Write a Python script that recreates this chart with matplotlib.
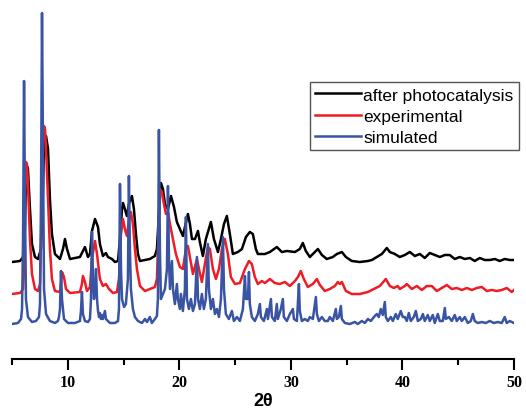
import matplotlib.pyplot as plt
from matplotlib.ticker import MultipleLocator

# PXRD patterns, 2-theta (deg) vs intensity (a.u., above each trace's own baseline)
after_2theta = [
    5.00, 5.72, 5.99, 6.16, 6.25, 6.34, 6.43, 6.61, 6.79, 7.06, 7.33, 7.60, 7.78, 7.87,
    8.05, 8.23, 8.40, 8.58, 8.85, 9.30, 9.57, 9.75, 9.93, 10.20, 11.09, 11.54, 11.81,
    11.99, 12.17, 12.44, 12.71, 12.88, 13.15, 13.42, 13.60, 13.96, 14.23, 14.50, 14.68,
    14.86, 14.95, 15.12, 15.30, 15.48, 15.75, 15.93, 16.11, 16.29, 16.47, 16.92, 17.36,
    17.81, 17.99, 18.17, 18.35, 18.53, 18.71, 18.98, 19.25, 19.52, 19.78, 20.05, 20.32,
    20.50, 20.77, 20.95, 21.13, 21.40, 21.67, 21.84, 22.11, 22.38, 22.83, 23.10, 23.46,
    23.73, 24.00, 24.26, 24.53, 24.80, 25.25, 25.61, 25.97, 26.32, 26.59, 26.86, 27.04,
    27.67, 28.12, 28.74, 29.19, 29.64, 30.36, 30.80, 31.07, 31.34, 31.70, 32.15, 32.42,
    32.78, 33.22, 33.76, 34.12, 34.57, 34.93, 35.46, 36.18, 36.90, 37.26, 37.70, 38.15,
    38.60, 38.87, 39.32, 39.76, 40.21, 40.66, 41.11, 41.56, 42.00, 42.45, 42.90, 43.35,
    43.80, 44.24, 44.69, 45.14, 45.59, 46.04, 46.48, 46.93, 47.38, 47.83, 48.28, 48.72,
    49.17, 49.62, 50.00,
]
after_int = [
    0, 1, 5, 33, 83, 96, 93, 53, 18, 5, 3, 13, 73, 118,
    126, 113, 63, 28, 8, 3, 13, 23, 13, 3, 5, 15, 5,
    8, 31, 43, 35, 18, 6, 9, 5, 3, 0, 1, 23,
    53, 59, 53, 46, 58, 66, 53, 28, 8, 1, 2, 3,
    6, 13, 48, 79, 73, 58, 53, 66, 55, 40, 33, 26,
    35, 48, 38, 23, 23, 31, 20, 6, 23, 40, 23, 10,
    23, 38, 46, 28, 8, 10, 13, 25, 30, 28, 13, 8,
    8, 10, 15, 10, 11, 10, 13, 19, 11, 5, 10, 13,
    7, 3, 5, 8, 10, 5, 1, 0, 1, 2, 5, 8,
    14, 10, 8, 5, 7, 10, 6, 8, 4, 9, 7, 5,
    7, 7, 3, 5, 3, 4, 1, 4, 2, 2, 3, 1,
    3, 2, 2,
]

exp_2theta = [
    5.00, 5.72, 5.99, 6.08, 6.16, 6.25, 6.34, 6.43, 6.61, 6.79, 7.06, 7.33, 7.51, 7.69,
    7.78, 7.87, 7.96, 8.05, 8.23, 8.40, 8.58, 8.85, 9.30, 9.39, 9.48, 9.66, 9.84, 10.20,
    11.09, 11.27, 11.36, 11.54, 11.72, 11.99, 12.17, 12.44, 12.62, 12.88, 13.15, 13.42,
    13.69, 14.05, 14.41, 14.59, 14.77, 14.95, 15.12, 15.30, 15.48, 15.66, 15.84, 16.02,
    16.20, 16.47, 16.92, 17.36, 17.81, 17.99, 18.17, 18.26, 18.44, 18.62, 18.80, 18.98,
    19.16, 19.43, 19.69, 20.05, 20.32, 20.59, 20.77, 20.95, 21.22, 21.58, 21.76, 22.02,
    22.29, 22.56, 22.74, 23.01, 23.28, 23.55, 23.82, 24.08, 24.35, 24.62, 24.98, 25.43,
    25.88, 26.24, 26.50, 26.77, 27.04, 27.40, 27.67, 28.12, 28.56, 29.01, 29.46, 29.91,
    30.36, 30.63, 30.89, 31.16, 31.52, 31.97, 32.33, 32.60, 33.04, 33.49, 33.94, 34.21,
    34.39, 34.57, 34.93, 35.46, 36.18, 36.90, 37.44, 37.97, 38.51, 38.87, 39.23, 39.58,
    39.76, 40.21, 40.39, 40.84, 41.29, 41.74, 42.18, 42.63, 43.08, 43.53, 43.98, 44.42,
    44.87, 45.32, 45.77, 46.22, 46.66, 47.11, 47.56, 48.01, 48.46, 48.90, 49.35, 49.80,
    50.00,
]
exp_int = [
    0, 1, 5, 25, 95, 132, 130, 110, 55, 20, 5, 3, 10, 95,
    155, 168, 165, 145, 95, 45, 15, 3, 2, 10, 22, 17, 5, 1,
    2, 10, 18, 12, 3, 7, 35, 53, 40, 15, 8, 10,
    5, 1, 2, 15, 60, 75, 65, 58, 73, 82, 70, 45,
    25, 8, 3, 5, 7, 15, 75, 105, 102, 90, 80, 82,
    70, 55, 40, 27, 25, 45, 48, 37, 20, 35, 25, 12,
    30, 47, 45, 25, 15, 25, 45, 55, 40, 17, 10, 11,
    25, 33, 30, 17, 10, 13, 11, 15, 11, 10, 12, 8,
    13, 17, 23, 15, 7, 10, 15, 9, 3, 5, 8, 12,
    10, 12, 3, 0, 0, 2, 5, 8, 15, 8, 6, 8,
    5, 8, 10, 5, 8, 4, 8, 8, 3, 6, 9, 5,
    6, 4, 6, 4, 6, 7, 3, 4, 3, 4, 6, 2,
    4,
]

sim_2theta = [
    5.00, 5.54, 5.81, 5.90, 5.99, 6.08, 6.16, 6.25, 6.43, 6.79, 7.15, 7.42, 7.51, 7.60,
    7.69, 7.78, 7.87, 8.05, 8.40, 8.85, 9.12, 9.21, 9.30, 9.39, 9.48, 9.66, 10.02, 10.64,
    11.09, 11.18, 11.27, 11.36, 11.54, 11.81, 11.99, 12.08, 12.17, 12.26, 12.35, 12.44,
    12.53, 12.62, 12.71, 12.80, 12.88, 12.97, 13.06, 13.15, 13.33, 13.42, 13.60, 13.78,
    14.23, 14.50, 14.59, 14.68, 14.77, 14.86, 15.04, 15.21, 15.39, 15.48, 15.57, 15.66,
    15.84, 16.02, 16.29, 16.65, 16.92, 17.10, 17.36, 17.54, 17.81, 17.99, 18.08, 18.17,
    18.26, 18.35, 18.53, 18.71, 18.89, 18.98, 19.07, 19.16, 19.34, 19.43, 19.60, 19.78,
    19.87, 20.05, 20.14, 20.32, 20.50, 20.59, 20.68, 20.86, 21.04, 21.22, 21.40, 21.58,
    21.67, 21.84, 22.02, 22.20, 22.38, 22.56, 22.65, 22.83, 23.01, 23.19, 23.37, 23.55,
    23.73, 23.91, 24.00, 24.17, 24.44, 24.71, 24.89, 25.16, 25.43, 25.70, 25.88, 25.97,
    26.15, 26.24, 26.32, 26.50, 26.77, 27.04, 27.22, 27.31, 27.58, 27.85, 27.94, 28.21,
    28.30, 28.56, 28.74, 28.83, 29.10, 29.28, 29.37, 29.64, 29.91, 30.18, 30.27, 30.54,
    30.72, 30.80, 30.98, 31.25, 31.52, 31.70, 31.97, 32.24, 32.33, 32.51, 32.78, 33.04,
    33.31, 33.49, 33.76, 34.03, 34.12, 34.30, 34.48, 34.57, 34.84, 35.28, 35.73, 36.00,
    36.36, 36.63, 36.90, 37.17, 37.44, 37.70, 37.88, 38.06, 38.24, 38.42, 38.51, 38.69,
    38.96, 39.14, 39.40, 39.58, 39.85, 40.03, 40.21, 40.39, 40.57, 40.75, 41.02, 41.20,
    41.38, 41.65, 41.83, 42.00, 42.27, 42.45, 42.72, 42.90, 43.17, 43.35, 43.62, 43.80,
    43.89, 44.16, 44.42, 44.69, 44.87, 45.14, 45.32, 45.59, 45.86, 46.13, 46.31, 46.48,
    46.75, 47.11, 47.47, 47.83, 48.19, 48.55, 48.90, 49.17, 49.35, 49.62, 49.98,
]
sim_int = [
    0, 1, 5, 15, 85, 243, 125, 25, 7, 2, 3, 7, 20, 125,
    311, 175, 35, 10, 3, 1, 3, 7, 15, 53, 25, 5, 1, 1,
    3, 13, 32, 10, 3, 2, 5, 25, 92, 45, 25, 35,
    55, 25, 13, 7, 11, 5, 9, 5, 13, 5, 3, 1,
    1, 3, 15, 140, 55, 25, 17, 20, 45, 148, 75, 35,
    15, 7, 3, 1, 5, 2, 7, 1, 5, 8, 25, 194,
    75, 25, 30, 35, 55, 138, 65, 35, 63, 35, 20, 40,
    25, 15, 30, 13, 35, 107, 25, 15, 25, 13, 20, 67,
    25, 15, 30, 15, 25, 80, 35, 15, 25, 10, 15, 7,
    25, 87, 35, 10, 5, 13, 3, 7, 3, 15, 48, 25,
    25, 52, 20, 7, 3, 10, 20, 7, 3, 15, 5, 25,
    7, 3, 20, 5, 15, 25, 7, 3, 10, 15, 5, 3,
    40, 13, 3, 5, 3, 7, 5, 27, 10, 3, 7, 3,
    3, 7, 3, 15, 5, 7, 18, 5, 1, 0, 2, 0,
    3, 1, 5, 3, 7, 10, 7, 15, 9, 22, 7, 3,
    7, 3, 10, 5, 13, 7, 7, 3, 11, 3, 7, 13,
    3, 5, 10, 3, 9, 3, 9, 1, 10, 3, 3, 16,
    5, 7, 3, 9, 3, 7, 3, 7, 1, 3, 10, 3,
    1, 2, 1, 3, 1, 2, 1, 7, 1, 3, 1,
]

labels = ["after photocatalysis", "experimental", "simulated"]
colors = ["#000000", "#ee1c24", "#3a54a4"]
offsets = [97, 65, 35]

fig = plt.figure(figsize=(5.26, 4.10), dpi=100)
ax = fig.add_axes([12 / 526, 50 / 410, 502 / 526, 350 / 410])

series = [(after_2theta, after_int), (exp_2theta, exp_int), (sim_2theta, sim_int)]
for (tt, inten), label, color, off in zip(series, labels, colors, offsets):
    ax.plot(tt, [v + off for v in inten], color=color, lw=1.8, label=label,
            solid_joinstyle="round")

ax.set_xlim(5, 50)
ax.set_ylim(0, 350)

for side in ["left", "right", "top"]:
    ax.spines[side].set_visible(False)
ax.spines["bottom"].set_linewidth(1.5)
ax.set_yticks([])

ax.xaxis.set_major_locator(MultipleLocator(10))
ax.xaxis.set_minor_locator(MultipleLocator(5))
ax.tick_params(axis="x", which="major", direction="out", length=8, width=1.5, pad=3)
ax.tick_params(axis="x", which="minor", direction="out", length=4, width=1.5)
for lbl in ax.get_xticklabels():
    lbl.set_fontfamily("Liberation Serif")
    lbl.set_fontweight("bold")
    lbl.set_fontsize(11.5)

ax.set_xlabel("2θ", fontfamily="Liberation Sans", fontweight="bold", fontsize=13,
              labelpad=1)

leg = ax.legend(loc="upper left", bbox_to_anchor=(0.594, 0.791), frameon=True,
                fancybox=False, edgecolor="#555555", framealpha=1,
                prop={"family": "Liberation Sans", "size": 12.5},
                handlelength=2.6, handletextpad=0.15, borderpad=0.3,
                labelspacing=0.35, borderaxespad=0)
leg.get_frame().set_linewidth(1.0)
for line in leg.get_lines():
    line.set_linewidth(1.8)

fig.savefig("out.png", dpi=100)
